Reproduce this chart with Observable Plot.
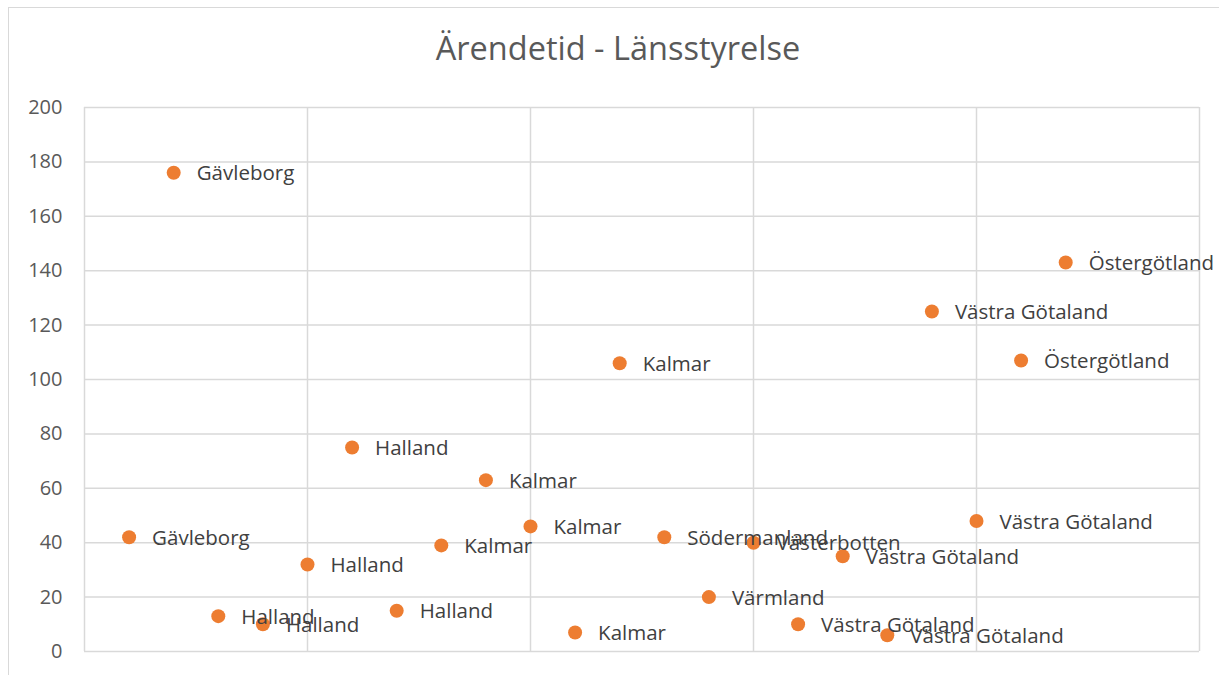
<!DOCTYPE html>
<html>
<head>
<meta charset="utf-8">
<script src="https://cdn.jsdelivr.net/npm/d3@7"></script>
<script src="https://cdn.jsdelivr.net/npm/@observablehq/plot@0.6"></script>
<style>
  html, body { margin: 0; padding: 0; background: #fff; }
  #wrap { position: relative; width: 1219px; height: 675px; overflow: hidden; font-family: "Open Sans", sans-serif; }
  #frame { position: absolute; left: 8px; top: 7px; width: 1300px; height: 800px; border-left: 1.5px solid #d9d9d9; border-top: 1.5px solid #d9d9d9; box-sizing: border-box; }
  #title { position: absolute; left: 0; width: 1236px; top: 28px; text-align: center; font-size: 32.5px; color: #595959; line-height: 1.2; }
  #chart { position: absolute; left: 0; top: 0; }
</style>
</head>
<body>
<div id="wrap">
  <div id="frame"></div>
  <div id="chart"></div>
  <div id="title">Ärendetid - Länsstyrelse</div>
</div>
<script>
const regions = ["Gävleborg","Gävleborg","Halland","Halland","Halland","Halland","Halland","Kalmar","Kalmar","Kalmar","Kalmar","Kalmar","Södermanland","Värmland","Västerbotten","Västra Götaland","Västra Götaland","Västra Götaland","Västra Götaland","Västra Götaland","Östergötland","Östergötland"];
const days = [42,176,13,10,32,75,15,39,63,46,7,106,42,20,40,10,35,6,125,48,107,143];
const yTicks = [0,20,40,60,80,100,120,140,160,180,200];
const xGrid = [0,5,10,15,20,25];

const data = regions.map((r, i) => ({idx: i + 1, region: r, value: days[i]}));

const chart = Plot.plot({
  width: 1219,
  height: 675,
  marginLeft: 84,
  marginRight: 20,
  marginTop: 107,
  marginBottom: 24,
  style: {fontFamily: "Open Sans, sans-serif", background: "transparent", overflow: "visible"},
  x: {domain: [0, 25], axis: null},
  y: {domain: [0, 200], ticks: yTicks, tickSize: 0, tickPadding: 22, label: null, tickFormat: d => d},
  marks: [
    Plot.gridY(yTicks, {stroke: "#d9d9d9", strokeOpacity: 1, strokeWidth: 1.5}),
    Plot.gridX(xGrid, {stroke: "#d9d9d9", strokeOpacity: 1, strokeWidth: 1.5}),
    Plot.axisY({ticks: yTicks, tickSize: 0, tickPadding: 22, fontSize: 20, fill: "#595959", label: null}),
    Plot.dot(data, {x: "idx", y: "value", r: 7, fill: "#ed7d31", stroke: "none"}),
    Plot.text(data, {x: "idx", y: "value", text: "region", dx: 23, dy: 1, textAnchor: "start", fontSize: 20.5, fill: "#404040"})
  ]
});
document.getElementById("chart").appendChild(chart);
</script>
</body>
</html>
